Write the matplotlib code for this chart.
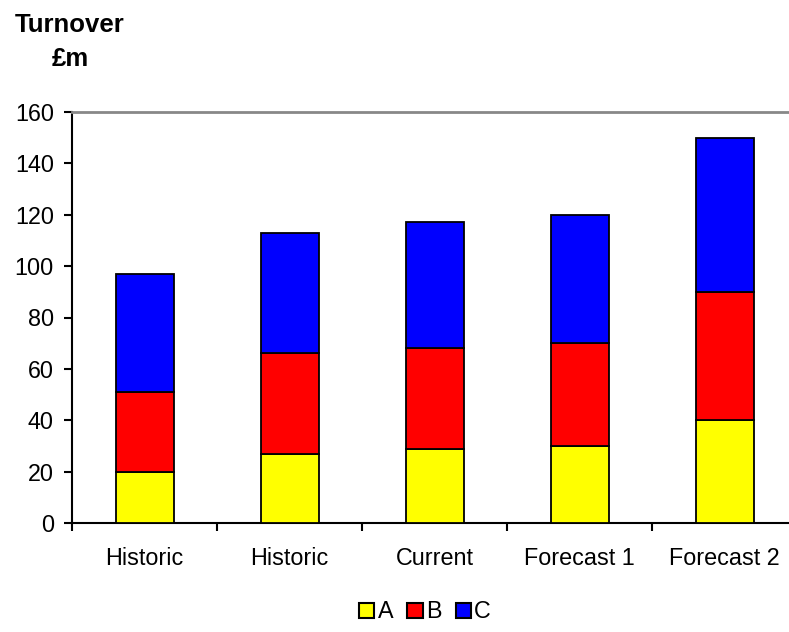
import matplotlib
matplotlib.use("Agg")
import matplotlib.pyplot as plt
from matplotlib.patches import Patch
import numpy as np

categories = ["Historic", "Historic", "Current", "Forecast 1", "Forecast 2"]
series_names = ["A", "B", "C"]
a_vals = [20, 27, 29, 30, 40]
b_vals = [31, 39, 39, 40, 50]
c_vals = [46, 47, 49, 50, 60]
colors = ["#ffff00", "#ff0000", "#0000ff"]
yticks = [0, 20, 40, 60, 80, 100, 120, 140, 160]

plt.rcParams['font.family'] = ['Liberation Sans', 'DejaVu Sans']

fig = plt.figure(figsize=(7.89, 6.32), dpi=100)
ax = fig.add_axes([72/789, 109/632, 725/789, 411/632])

x = np.arange(len(categories))
bottom = np.zeros(len(categories))
for vals, col in zip([a_vals, b_vals, c_vals], colors):
    ax.bar(x, vals, 0.4, bottom=bottom, color=col, edgecolor="black", linewidth=1.3, zorder=3)
    bottom += np.array(vals)

ax.set_xlim(-0.5, len(categories) - 0.5)
ax.set_ylim(0, 160)
ax.set_yticks(yticks)
ax.set_xticks(x)
ax.set_xticklabels(categories)
ax.set_xticks(np.arange(-0.5, len(categories), 1.0), minor=True)
ax.tick_params(axis='x', which='major', length=0, pad=17, labelsize=16.8)
ax.tick_params(axis='x', which='minor', length=6, width=1.5, direction='out')
ax.tick_params(axis='y', length=6, width=1.5, direction='out', pad=7, labelsize=16.8)

for s in ['left', 'bottom']:
    ax.spines[s].set_linewidth(1.5)
    ax.spines[s].set_color('black')
ax.spines['right'].set_visible(False)
ax.spines['top'].set_color('#888888')
ax.spines['top'].set_linewidth(2)

fig.text(70/789, 1 - 25/632, "Turnover", ha='center', va='center', fontsize=18.5, fontweight='bold')
fig.text(70/789, 1 - 59/632, "£m", ha='center', va='center', fontsize=18.5, fontweight='bold')

handles = [Patch(facecolor=c, edgecolor='black', linewidth=1.5) for c in colors]
fig.legend(handles, series_names, loc='center', bbox_to_anchor=(425/789, 1 - 612/632), ncol=3,
           frameon=False, fontsize=16.8, handlelength=0.65, handleheight=0.65,
           handletextpad=0.15, columnspacing=0.6)

fig.savefig("out.png", dpi=100)
